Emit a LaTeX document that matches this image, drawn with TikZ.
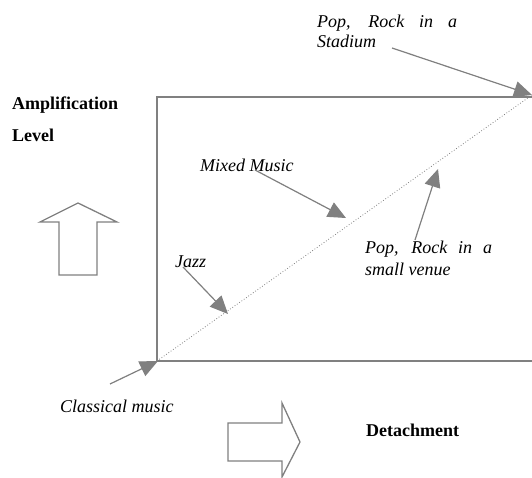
\documentclass[tikz,border=0pt]{standalone}
\usepackage{fontspec}
\setmainfont{Liberation Serif}
\usetikzlibrary{arrows.meta}
\definecolor{lg}{RGB}{128,128,128}
\tikzset{
  lbl/.style={anchor=base west,inner sep=0pt,font=\fontsize{18}{21}\selectfont\itshape},
  blbl/.style={anchor=base west,inner sep=0pt,font=\fontsize{18}{21}\selectfont\bfseries},
  pointer/.style={draw=lg,line width=1.2pt,-{Triangle[length=18pt,width=16pt]},fill=lg},
  frame/.style={draw=lg,line width=1.4pt},
  block/.style={draw=lg,line width=1.3pt}
}
\begin{document}
\begin{tikzpicture}[x=1pt,y=-1pt]
\useasboundingbox (0,0) rectangle (532,478);
\clip (0,0) rectangle (532,478);
% frame
\coordinate (tl) at (157,97);
\coordinate (bl) at (157,361);
\coordinate (tr) at (545,97);
\coordinate (br) at (545,361);
\coordinate (corner) at (532,95);
\draw[frame] (tr) -- (tl) -- (bl) -- (br);
\draw[lg,dotted,line width=0.8pt] (bl) -- (corner);
% labels
\node[lbl] (stad1) at (317,28) {\makebox[140pt][s]{Pop, Rock in a}};
\node[lbl] (stad2) at (317,48) {Stadium};
\node[blbl] (amp) at (12,110) {Amplification};
\node[blbl] (lev) at (12,142) {Level};
\node[lbl] (mixed) at (200,172) {Mixed Music};
\node[lbl] (jazz) at (175,267) {Jazz};
\node[lbl] (small1) at (365,253) {\makebox[127pt][s]{Pop, Rock in a}};
\node[lbl] (small2) at (365,275) {small venue};
\node[lbl] (class) at (60,412) {Classical music};
\node[blbl] (det) at (366,436) {Detachment};
% pointers
\coordinate (s0) at (392,48);
\coordinate (m0) at (255,170);
\coordinate (m1) at (346,218);
\coordinate (v0) at (415,240);
\coordinate (v1) at (438,169);
\coordinate (j0) at (183,267);
\coordinate (j1) at (228,314);
\coordinate (c0) at (110,384);
\coordinate (c1) at (158,361);
\draw[pointer] (s0) -- (corner);
\draw[pointer] (m0) -- (m1);
\draw[pointer] (v0) -- (v1);
\draw[pointer] (j0) -- (j1);
\draw[pointer] (c0) -- (c1);
% block arrows
\draw[block] (40,222) -- (78,203) -- (117,222) -- (97,222) -- (97,275) -- (59,275) -- (59,222) -- cycle;
\draw[block] (228,423) -- (282,423) -- (282,403) -- (300,442) -- (282,477) -- (282,461) -- (228,461) -- cycle;
\end{tikzpicture}
\end{document}
